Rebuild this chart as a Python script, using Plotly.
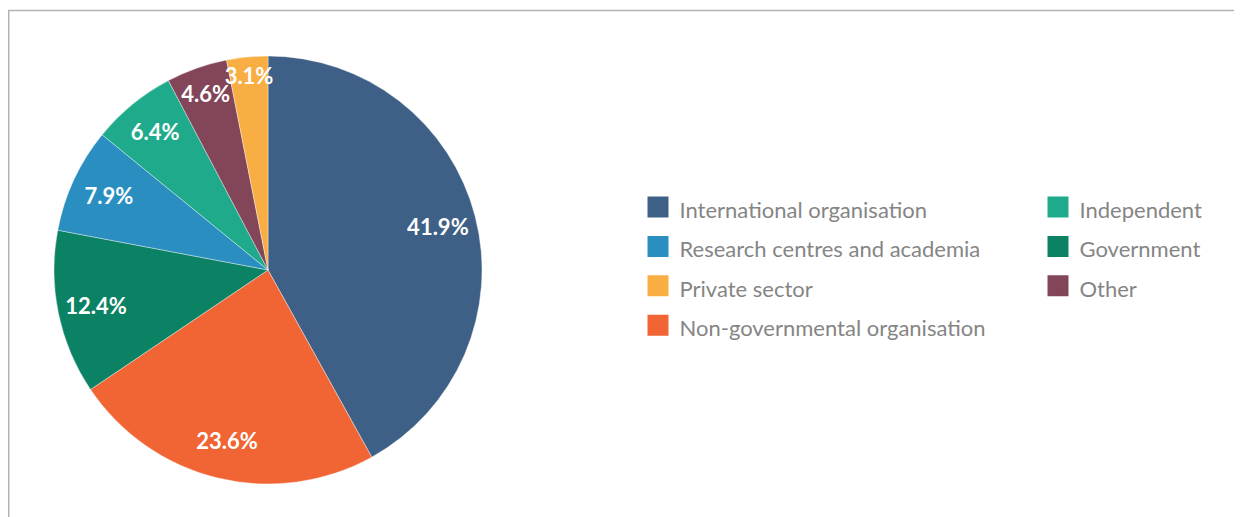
import plotly.graph_objects as go

# ---- data ----
categories = [
    "International organisation",
    "Non-governmental organisation",
    "Government",
    "Research centres and academia",
    "Independent",
    "Other",
    "Private sector",
]
shares = [41.9, 23.6, 12.4, 7.9, 6.4, 4.6, 3.1]
slice_colors = ["#3F6086", "#F16434", "#0B8264", "#2A8FC0", "#1FAB8B", "#834658", "#F9AE43"]
legend_col1 = [
    "International organisation",
    "Research centres and academia",
    "Private sector",
    "Non-governmental organisation",
]
legend_col2 = ["Independent", "Government", "Other"]

# page body has an 8px margin: work in page pixels, convert to figure pixels
OFF = 8
W, H = 1242 - OFF, 517 - OFF
M_L, M_R, M_T, M_B = 0, 0, 0, 0
PW, PH = W - M_L - M_R, H - M_T - M_B


def fx(px):  # page x -> paper fraction
    return (px - OFF - M_L) / PW


def fy(py):  # page y -> paper fraction
    return 1 - (py - OFF - M_T) / PH


color_of = dict(zip(categories, slice_colors))

# pie geometry in page pixels
cx, cy, R = 268, 270, 214
dom_x = [fx(cx - R), fx(cx + R)]
dom_y = [fy(cy + R), fy(cy - R)]

fig = go.Figure()

# main pie
fig.add_trace(go.Pie(
    labels=categories, values=shares, sort=False, direction="clockwise", rotation=0,
    marker=dict(colors=slice_colors, line=dict(color="rgba(255,255,255,0.55)", width=0.7)),
    textinfo="none", showlegend=False, hoverinfo="label+value",
    domain=dict(x=dom_x, y=dom_y),
))

# transparent ring carrying the labels near the outer edge
fig.add_trace(go.Pie(
    labels=categories, values=shares, sort=False, direction="clockwise", rotation=0,
    hole=0.64,
    marker=dict(colors=["rgba(0,0,0,0)"] * len(categories), line=dict(width=0)),
    texttemplate="%{value:.1f}%", textposition="inside", insidetextorientation="horizontal",
    textfont=dict(family="Lato", size=22, color="white", weight="bold"),
    showlegend=False, hoverinfo="skip",
    domain=dict(x=dom_x, y=dom_y),
))

# legend entries, two columns = two legends
for col, legend_id in ((legend_col1, "legend"), (legend_col2, "legend2")):
    for name in col:
        fig.add_trace(go.Scatter(
            x=[None], y=[None], mode="markers", legend=legend_id,
            name='<span style="font-size:22px">' + name + "</span>",
            marker=dict(symbol="square", size=16, color=color_of[name],
                        line=dict(color=color_of[name], width=5)),
            hoverinfo="skip",
        ))

row1_center = 207      # page y of first legend row
legend_top = row1_center - 24.7
leg_common = dict(
    orientation="v", yanchor="top", xanchor="left", itemwidth=33,
    font=dict(family="Lato", size=28, color="#858585"),
    bgcolor="rgba(0,0,0,0)", borderwidth=0, traceorder="normal",
    itemclick=False, itemdoubleclick=False,
)

fig.update_layout(
    width=W, height=H,
    margin=dict(l=M_L, r=M_R, t=M_T, b=M_B, pad=0),
    paper_bgcolor="white", plot_bgcolor="white",
    xaxis=dict(visible=False), yaxis=dict(visible=False),
    uniformtext=dict(minsize=22, mode="show"),
    showlegend=True,
    legend=dict(x=fx(658.5 - 22), y=fy(legend_top), **leg_common),
    legend2=dict(x=fx(1058.5 - 22), y=fy(legend_top), **leg_common),
    shapes=[dict(
        type="rect", xref="paper", yref="paper",
        x0=fx(OFF + 0.75), x1=fx(1262),
        y0=fy(560), y1=fy(10.5),
        line=dict(color="#B3B3B3", width=1.5), fillcolor="rgba(0,0,0,0)",
    )],
)

fig.write_html("out.html")
